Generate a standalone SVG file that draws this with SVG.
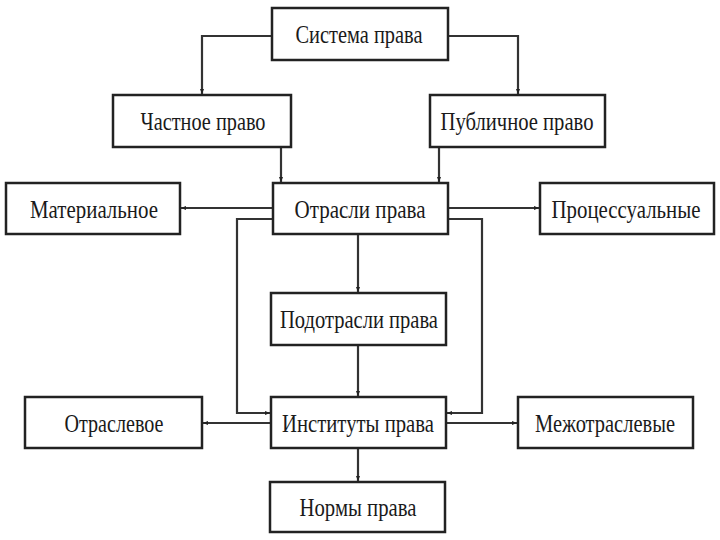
<svg xmlns="http://www.w3.org/2000/svg" width="720" height="540" viewBox="0 0 720 540">
<defs>
<marker id="ar" viewBox="0 0 10 10" refX="10" refY="5" markerWidth="5" markerHeight="5" orient="auto" markerUnits="userSpaceOnUse">
<path d="M0,1 L10,5 L0,9 z" fill="#222"/>
</marker>
<style>
.box{fill:#fff;stroke:#222;stroke-width:2.5}
.t{font-family:"Liberation Serif","DejaVu Serif","Noto Serif",serif;font-size:26px;fill:#1a1a1a;text-anchor:middle}
.c{fill:none;stroke:#333;stroke-width:2.2}
</style>
</defs>
<rect width="720" height="540" fill="#fff"/>
<g id="connectors">
<polyline class="c" points="272,36 202,36 202,94" marker-end="url(#ar)"/>
<polyline class="c" points="448,36 518,36 518,94" marker-end="url(#ar)"/>
<polyline class="c" points="281,147 281,182" marker-end="url(#ar)"/>
<polyline class="c" points="439,147 439,182" marker-end="url(#ar)"/>
<polyline class="c" points="273,208 181,208" marker-end="url(#ar)"/>
<polyline class="c" points="448,208 539,208" marker-end="url(#ar)"/>
<polyline class="c" points="273,219 237,219 237,413 270,413" marker-end="url(#ar)"/>
<polyline class="c" points="448,219 482,219 482,413 447,413" marker-end="url(#ar)"/>
<polyline class="c" points="358,234 358,292" marker-end="url(#ar)"/>
<polyline class="c" points="358,345 358,396" marker-end="url(#ar)"/>
<polyline class="c" points="271,423 203,423" marker-end="url(#ar)"/>
<polyline class="c" points="446,423 517,423" marker-end="url(#ar)"/>
<polyline class="c" points="358,448 358,481" marker-end="url(#ar)"/>
</g>
<g id="sistema"><rect class="box" x="272" y="8" width="176" height="52"/><text class="t" x="359" y="43" textLength="127" lengthAdjust="spacingAndGlyphs">Система права</text></g>
<g id="chastnoe"><rect class="box" x="113" y="95" width="178" height="52"/><text class="t" x="203" y="130" textLength="125" lengthAdjust="spacingAndGlyphs">Частное право</text></g>
<g id="publichnoe"><rect class="box" x="430" y="95" width="175" height="52"/><text class="t" x="517" y="130" textLength="153" lengthAdjust="spacingAndGlyphs">Публичное право</text></g>
<g id="materialnoe"><rect class="box" x="6" y="183" width="174" height="51"/><text class="t" x="94" y="218" textLength="128" lengthAdjust="spacingAndGlyphs">Материальное</text></g>
<g id="otrasli"><rect class="box" x="273" y="183" width="175" height="51"/><text class="t" x="360" y="218" textLength="131" lengthAdjust="spacingAndGlyphs">Отрасли права</text></g>
<g id="processualnye"><rect class="box" x="540" y="183" width="174" height="51"/><text class="t" x="626" y="218" textLength="149" lengthAdjust="spacingAndGlyphs">Процессуальные</text></g>
<g id="podotrasli"><rect class="box" x="271" y="293" width="175" height="52"/><text class="t" x="359" y="328" textLength="158" lengthAdjust="spacingAndGlyphs">Подотрасли права</text></g>
<g id="otraslevoe"><rect class="box" x="25" y="397" width="177" height="51"/><text class="t" x="114" y="432" textLength="99" lengthAdjust="spacingAndGlyphs">Отраслевое</text></g>
<g id="instituty"><rect class="box" x="271" y="397" width="175" height="51"/><text class="t" x="358" y="432" textLength="152" lengthAdjust="spacingAndGlyphs">Институты права</text></g>
<g id="mezhotraslevye"><rect class="box" x="518" y="397" width="175" height="51"/><text class="t" x="605" y="432" textLength="140" lengthAdjust="spacingAndGlyphs">Межотраслевые</text></g>
<g id="normy"><rect class="box" x="270" y="482" width="175" height="50"/><text class="t" x="358" y="516" textLength="117" lengthAdjust="spacingAndGlyphs">Нормы права</text></g>
</svg>
